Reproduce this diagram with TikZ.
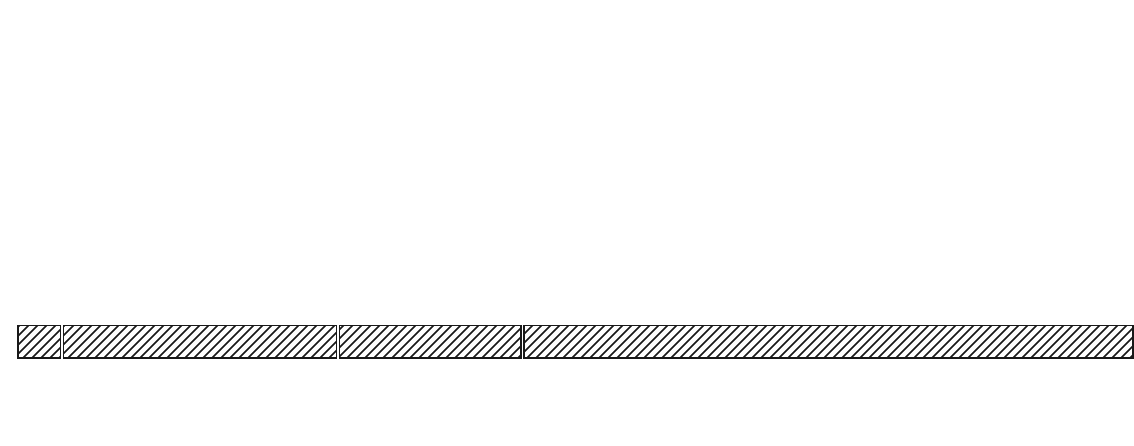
\documentclass[tikz,border=0pt]{standalone}
\begin{document}
\begin{tikzpicture}[x=1pt,y=-1pt,
  hatchline/.style={line width=1.6pt,black!90},
  segborder/.style={line width=1.7pt,black!90}]
\useasboundingbox (0,0) rectangle (1134,445);
\fill[white] (0,0) rectangle (1134,445);
\foreach \xa/\xb in {18.2/60.5, 63.6/336.6, 339.6/521.0, 524.0/1132.8}{
  \begin{scope}
    \clip (\xa,325.6) rectangle (\xb,358.0);
    \foreach \i in {-5,...,130}{
      \draw[hatchline] (\i*9+4,359) -- ++(35,-35);
    }
  \end{scope}
  \draw[segborder] (\xa,325.6) rectangle (\xb,358.0);
}
\end{tikzpicture}
\end{document}
